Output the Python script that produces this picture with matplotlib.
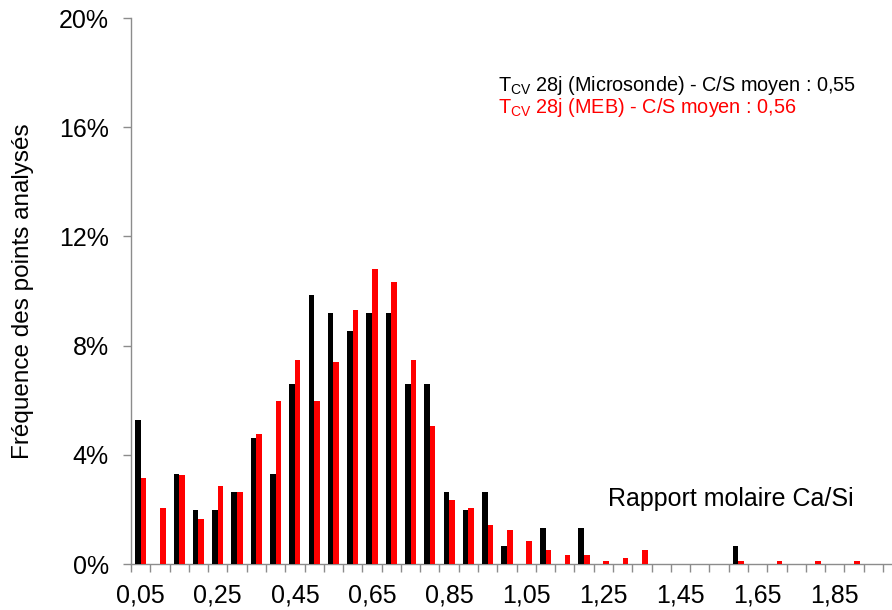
import numpy as np
import matplotlib
matplotlib.use("Agg")
import matplotlib.pyplot as plt

plt.rcParams["font.family"] = ["Liberation Sans", "DejaVu Sans"]

# Ca/Si classes, 0.05 wide
ratios = [round(0.05 * (i + 1), 2) for i in range(40)]

# frequency in %, microprobe (black) and SEM (red)
freq_microsonde = [5.26, 0, 3.29, 1.97, 1.97, 2.63, 4.61, 3.29, 6.58, 9.87,
                   9.21, 8.55, 9.21, 9.21, 6.58, 6.58, 2.63, 1.97, 2.63, 0.66,
                   0, 1.32, 0, 1.32, 0, 0, 0, 0, 0, 0,
                   0, 0.66, 0, 0, 0, 0, 0, 0, 0, 0]
freq_meb = [3.15, 2.04, 3.25, 1.64, 2.85, 2.64, 4.76, 5.97, 7.47, 5.97,
            7.39, 9.30, 10.82, 10.32, 7.48, 5.07, 2.34, 2.04, 1.43, 1.23,
            0.83, 0.52, 0.33, 0.33, 0.12, 0.22, 0.52, 0, 0, 0,
            0, 0.12, 0, 0.12, 0, 0.12, 0, 0.12, 0, 0]

x_labels = ["0,05", "0,25", "0,45", "0,65", "0,85", "1,05",
            "1,25", "1,45", "1,65", "1,85"]
y_ticks = [0, 4, 8, 12, 16, 20]
y_labels = ["0%", "4%", "8%", "12%", "16%", "20%"]

AXIS_GREY = "#8c8c8c"
FS = 18
BAR_W = 0.29

fig = plt.figure(figsize=(8.92, 6.10), dpi=100)
ax = fig.add_axes([131 / 892, 46 / 610, 1 - 131 / 892, 546 / 610])

pos = np.arange(len(ratios))
ax.bar(pos - BAR_W / 2, freq_microsonde, width=BAR_W, color="black", zorder=3)
ax.bar(pos + BAR_W / 2, freq_meb, width=BAR_W, color="#ff0000", zorder=3)

ax.set_xlim(-0.5, -0.5 + (892 - 131) / 19.28)
ax.set_ylim(0, 20)

# tick marks on class boundaries, labels every 4 classes
ax.set_xticks(pos - 0.5)
ax.set_xticklabels([])
ax.set_xticks(pos[::4][:len(x_labels)], minor=True)
ax.set_xticklabels(x_labels, minor=True, fontsize=FS)
ax.tick_params(axis="x", which="major", length=6, width=1, color=AXIS_GREY)
ax.tick_params(axis="x", which="minor", length=0, pad=14)

ax.set_yticks(y_ticks)
ax.set_yticklabels(y_labels, fontsize=FS)
ax.tick_params(axis="y", length=6, width=1, color=AXIS_GREY, pad=10)

for side in ["top", "right"]:
    ax.spines[side].set_visible(False)
for side in ["left", "bottom"]:
    ax.spines[side].set_color(AXIS_GREY)
    ax.spines[side].set_linewidth(1)

ax.set_ylabel("Fréquence des points analysés", fontsize=17.5, labelpad=18)

fig.text(608 / 892, 1 - 506 / 610, "Rapport molaire Ca/Si", fontsize=FS,
         ha="left", va="baseline")
fig.text(498 / 892, 1 - 91 / 610,
         r"T$_{\mathregular{CV}}$ 28j (Microsonde) - C/S moyen : 0,55",
         fontsize=14.3, color="black", ha="left", va="baseline")
fig.text(498 / 892, 1 - 113 / 610,
         r"T$_{\mathregular{CV}}$ 28j (MEB) - C/S moyen : 0,56",
         fontsize=14.3, color="#ff0000", ha="left", va="baseline")

fig.savefig("out.png", dpi=100)
